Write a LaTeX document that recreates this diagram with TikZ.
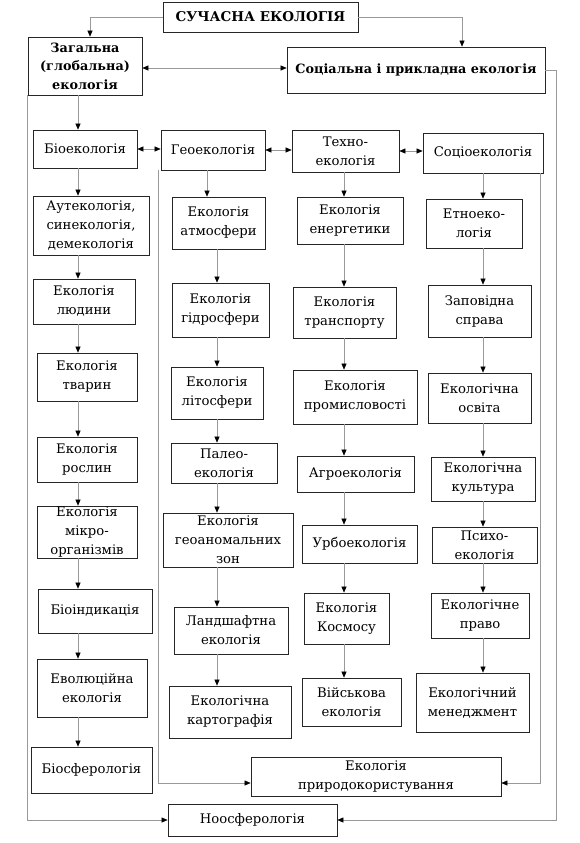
\documentclass[tikz,border=0pt]{standalone}
\usepackage{fontspec}
\setmainfont{DejaVu Serif}
\usetikzlibrary{arrows.meta}

\begin{document}
\begin{tikzpicture}[x=1pt, y=-1pt,
    box/.style 2 args={draw=black!85, line width=0.8pt, inner sep=0pt, align=center,
      text=black, font=\fontsize{13.2}{19}\selectfont,
      minimum width=#1, minimum height=#2},
    hbox/.style 2 args={box={#1}{#2}, font=\fontsize{12.8}{18.5}\selectfont\bfseries},
    link/.style={draw=black!40, line width=0.5pt},
    arr/.style={link, -{Triangle[length=6pt, width=5pt, color=black]}},
    darr/.style={link, {Triangle[length=6pt, width=5pt, color=black]}-{Triangle[length=6pt, width=5pt, color=black]}}]
    \useasboundingbox[fill=white] (0,0) rectangle (579,843);
    % Top
    \node[hbox={195pt}{30pt}, font=\fontsize{13.5}{16}\selectfont\bfseries] (top) at (260.5,17) {СУЧАСНА ЕКОЛОГІЯ};
    \node[hbox={114pt}{58pt}] (zag) at (85,66) {Загальна\\(глобальна)\\екологія};
    \node[hbox={258pt}{46pt}] (soc) at (416,70) {Соціальна і прикладна екологія};
    % Column heads
    \node[box={104pt}{38pt}] (bio) at (85,149) {Біоекологія};
    \node[box={104pt}{40pt}] (geo) at (213,150) {Геоекологія};
    \node[box={107pt}{42pt}] (tech) at (345.5,151) {Техно-\\екологія};
    \node[box={120pt}{40pt}] (socio) at (483,153) {Соціоекологія};
    % Bioecology column
    \node[box={116pt}{59pt}] (b1) at (91,225.5) {Аутекологія,\\синекологія,\\демекологія};
    \node[box={102pt}{45pt}] (b2) at (84,301.5) {Екологія\\людини};
    \node[box={100pt}{48pt}] (b3) at (87,377) {Екологія\\тварин};
    \node[box={100pt}{45pt}] (b4) at (87,459.5) {Екологія\\рослин};
    \node[box={100pt}{52pt}] (b5) at (87,532) {Екологія\\мікро-\\організмів};
    \node[box={114pt}{44pt}] (b6) at (95,611) {Біоіндикація};
    \node[box={110pt}{58pt}] (b7) at (92,688) {Еволюційна\\екологія};
    \node[box={121pt}{46pt}] (b8) at (91.5,770) {Біосферологія};
    % Geoecology column
    \node[box={93pt}{52pt}] (g1) at (218.5,223) {Екологія\\атмосфери};
    \node[box={97pt}{54pt}] (g2) at (220.5,310) {Екологія\\гідросфери};
    \node[box={92pt}{52pt}] (g3) at (217,393) {Екологія\\літосфери};
    \node[box={106pt}{40pt}] (g4) at (224,463) {Палео-\\екологія};
    \node[box={130pt}{54pt}] (g5) at (228,540) {Екологія\\геоаномальних\\зон};
    \node[box={114pt}{47pt}] (g6) at (231,630.5) {Ландшафтна\\екологія};
    \node[box={122pt}{52pt}] (g7) at (230,712) {Екологічна\\картографія};
    % Technoecology column
    \node[box={106pt}{47pt}] (t1) at (350,220.5) {Екологія\\енергетики};
    \node[box={103pt}{51pt}] (t2) at (344.5,312.5) {Екологія\\транспорту};
    \node[box={124pt}{54pt}] (t3) at (355,397) {Екологія\\промисловості};
    \node[box={117pt}{36pt}] (t4) at (355.5,474) {Агроекологія};
    \node[box={115pt}{38pt}] (t5) at (359.5,544) {Урбоекологія};
    \node[box={85pt}{51pt}] (t6) at (346.5,618.5) {Екологія\\Космосу};
    \node[box={99pt}{48pt}] (t7) at (351.5,702) {Військова\\екологія};
    % Socioecology column
    \node[box={96pt}{49pt}] (s1) at (474,223.5) {Етноеко-\\логія};
    \node[box={103pt}{52pt}] (s2) at (479.5,311) {Заповідна\\справа};
    \node[box={103pt}{50pt}] (s3) at (479.5,398) {Екологічна\\освіта};
    \node[box={104pt}{44pt}] (s4) at (483,479) {Екологічна\\культура};
    \node[box={105pt}{36pt}] (s5) at (484.5,545) {Психо-\\екологія};
    \node[box={98pt}{45pt}] (s6) at (480,615.5) {Екологічне\\право};
    \node[box={113pt}{59pt}] (s7) at (472.5,702.5) {Екологічний\\менеджмент};
    % Bottom
    \node[box={250pt}{39pt}] (nat) at (376,776.5) {Екологія\\природокористування};
    \node[box={169pt}{32pt}] (noo) at (252.5,820) {Ноосферологія};
    % Axes of the links
    \coordinate (c1) at (78,0);
    \coordinate (c2) at (217,0);
    \coordinate (c3) at (344,0);
    \coordinate (c4) at (483,0);
    \coordinate (lx) at (27,0);
    \coordinate (gx) at (158,0);
    \coordinate (sx) at (540,0);
    \coordinate (rx) at (556,0);
    \coordinate (ny) at (0,783);
    % Top links
    \draw[arr] (top.west) -| ([xshift=5pt]zag.north);
    \draw[arr] (top.east) -| ([xshift=46pt]soc.north);
    \draw[darr] ([yshift=-2pt]zag.east) -- ([yshift=2pt]soc.west);
    \draw[arr] (zag.south -| c1) -- (bio.north -| c1);
    % Links between heads
    \draw[darr] (bio.east) -- (bio.east -| geo.west);
    \draw[darr] (geo.east) -- (geo.east -| tech.west);
    \draw[darr] (tech.east) -- (tech.east -| socio.west);
    % Bioecology links
    \draw[arr] (bio.south -| c1) -- (b1.north -| c1);
    \draw[arr] (b1.south -| c1) -- (b2.north -| c1);
    \draw[arr] (b2.south -| c1) -- (b3.north -| c1);
    \draw[arr] (b3.south -| c1) -- (b4.north -| c1);
    \draw[arr] (b4.south -| c1) -- (b5.north -| c1);
    \draw[arr] (b5.south -| c1) -- (b6.north -| c1);
    \draw[arr] (b6.south -| c1) -- (b7.north -| c1);
    \draw[arr] (b7.south -| c1) -- (b8.north -| c1);
    % Geoecology links
    \draw[arr] ([xshift=-6pt]geo.south) -- ([xshift=-6pt]geo.south |- g1.north);
    \draw[arr] (g1.south -| c2) -- (g2.north -| c2);
    \draw[arr] (g2.south -| c2) -- (g3.north -| c2);
    \draw[arr] (g3.south -| c2) -- (g4.north -| c2);
    \draw[arr] (g4.south -| c2) -- (g5.north -| c2);
    \draw[arr] (g5.south -| c2) -- (g6.north -| c2);
    \draw[arr] (g6.south -| c2) -- (g7.north -| c2);
    % Technoecology links
    \draw[arr] (tech.south -| c3) -- (t1.north -| c3);
    \draw[arr] (t1.south -| c3) -- (t2.north -| c3);
    \draw[arr] (t2.south -| c3) -- (t3.north -| c3);
    \draw[arr] (t3.south -| c3) -- (t4.north -| c3);
    \draw[arr] (t4.south -| c3) -- (t5.north -| c3);
    \draw[arr] (t5.south -| c3) -- (t6.north -| c3);
    \draw[arr] (t6.south -| c3) -- (t7.north -| c3);
    % Socioecology links
    \draw[arr] (socio.south -| c4) -- (s1.north -| c4);
    \draw[arr] (s1.south -| c4) -- (s2.north -| c4);
    \draw[arr] (s2.south -| c4) -- (s3.north -| c4);
    \draw[arr] (s3.south -| c4) -- (s4.north -| c4);
    \draw[arr] (s4.south -| c4) -- (s5.north -| c4);
    \draw[arr] (s5.south -| c4) -- (s6.north -| c4);
    \draw[arr] (s6.south -| c4) -- (s7.north -| c4);
    % Outer links
    \draw[arr] (zag.south -| lx) |- (noo.west);
    \draw[arr] (soc.east) -- (soc.east -| rx) |- (noo.east);
    \draw[arr] (geo.south -| gx) -- (gx |- ny) -- (nat.west |- ny);
    \draw[arr] (socio.south -| sx) -- (sx |- ny) -- (nat.east |- ny);
\end{tikzpicture}
\end{document}
